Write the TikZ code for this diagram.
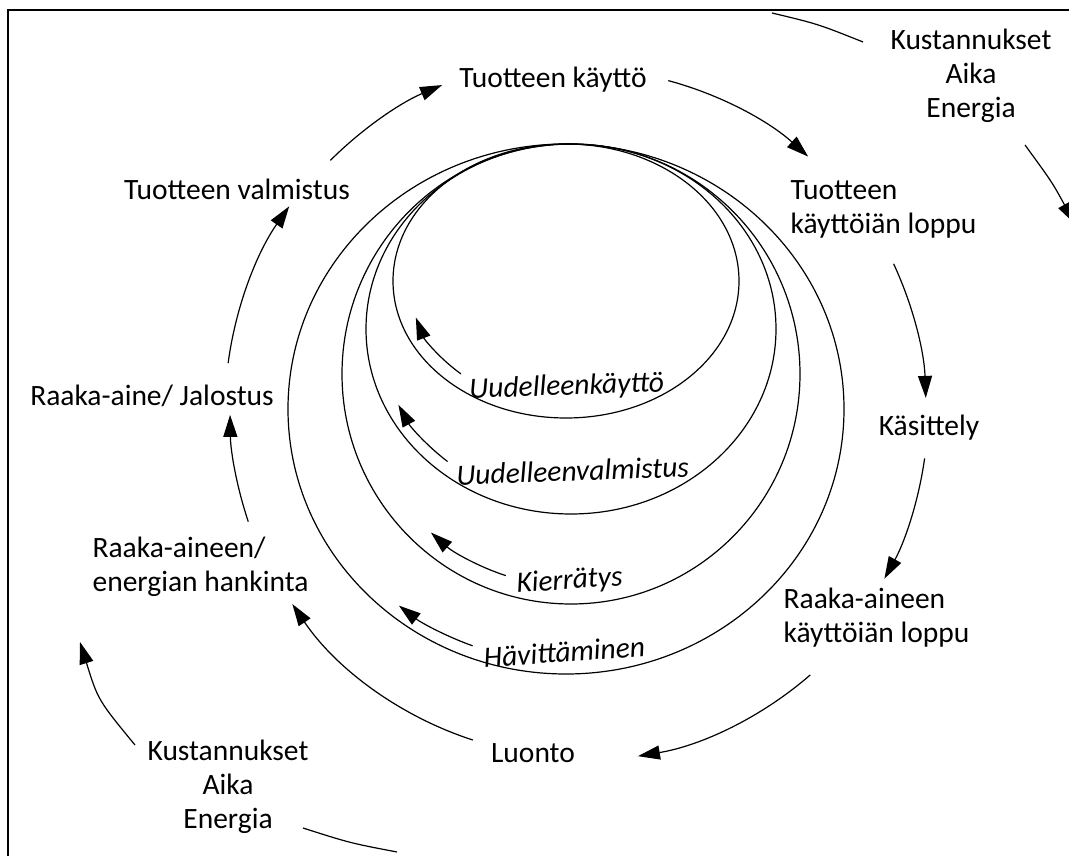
\documentclass[tikz,border=0pt]{standalone}
\usepackage{fontspec}
\setmainfont{Carlito}
\usetikzlibrary{arrows.meta,calc}
\begin{document}
\begin{tikzpicture}[x=1pt,y=-1pt,
  line width=1.2pt,
  arr/.style={-{Triangle[length=22pt,width=14pt]}},
  lab/.style={inner sep=0pt, font=\fontsize{29.5}{34}\selectfont},
  ilab/.style={inner sep=0pt, font=\fontsize{29.5}{34}\selectfont\itshape},
  ring/.style={line width=1.2pt}
]
\useasboundingbox (0,0) rectangle (1069,856);
\clip (0,0) rectangle (1069,856);
\fill[white] (0,0) rectangle (1069,856);
\draw[line width=2.2pt] (8,10) rectangle (1100,900);

% nested loops
\coordinate (c1) at (566,281);
\coordinate (c2) at (571,329);
\coordinate (c3) at (571,374);
\coordinate (c4) at (566,409);
\draw[ring] (c1) ellipse [x radius=173, y radius=137];
\draw[ring] (c2) ellipse [x radius=205, y radius=185];
\draw[ring] (c3) ellipse [x radius=229, y radius=230];
\draw[ring] (c4) ellipse [x radius=278, y radius=265];

% inner arrows
\draw[arr] ($(c1)+(132:157 and 125)$) arc[start angle=132, end angle=163, x radius=157, y radius=125];
\draw[arr] ($(c2)+(130:192 and 173)$) arc[start angle=130, end angle=154, x radius=192, y radius=173];
\draw[arr] ($(c3)+(108:211 and 212)$) arc[start angle=108, end angle=131.6, x radius=211, y radius=212];
\draw[arr] ($(c4)+(110.6:265.5 and 253)$) arc[start angle=110.6, end angle=129, x radius=265.5, y radius=253];

% inner labels
\node[ilab, anchor=base, rotate=2] (uk) at (567,395) {Uudelleenkäyttö};
\node[ilab, anchor=base, rotate=2] (uv) at (573,481) {Uudelleenvalmistus};
\node[ilab, anchor=base, rotate=4] (ki) at (570,589) {Kierrätys};
\node[ilab, anchor=base, rotate=4] (hv) at (565,662) {Hävittäminen};

% outer cycle labels
\node[lab, anchor=base] (kaytto) at (553,88) {Tuotteen käyttö};
\node[lab, anchor=base] (valm) at (237,200) {Tuotteen valmistus};
\node[lab, anchor=base west] (tloppu) at (790,200) {\begin{tabular}[t]{@{}l@{}}Tuotteen\\käyttöiän loppu\end{tabular}};
\node[lab, anchor=base] (kas) at (929,435) {Käsittely};
\node[lab, anchor=base west] (rloppu) at (783,608) {\begin{tabular}[t]{@{}l@{}}Raaka-aineen\\käyttöiän loppu\end{tabular}};
\node[lab, anchor=base] (luonto) at (533,762) {Luonto};
\node[lab, anchor=base west] (hank) at (92,557) {\begin{tabular}[t]{@{}l@{}}Raaka-aineen/\\energian hankinta\end{tabular}};
\node[lab, anchor=base] (jal) at (152,405) {Raaka-aine/ Jalostus};
\node[lab, anchor=base] (kae1) at (971,50) {\begin{tabular}[t]{@{}c@{}}Kustannukset\\Aika\\Energia\end{tabular}};
\node[lab, anchor=base] (kae2) at (228,760) {\begin{tabular}[t]{@{}c@{}}Kustannukset\\Aika\\Energia\end{tabular}};

% outer cycle arrows
\coordinate (O) at (580,410);
\draw[arr] ($(O)+(225:353)$) arc[start angle=225, end angle=247, radius=353];
\draw[arr] ($(O)+(285:341)$) arc[start angle=285, end angle=312, radius=341];
\draw[arr] ($(O)+(335:346)$) arc[start angle=335, end angle=358, radius=346];
\draw[arr] ($(O)+(8:348)$) arc[start angle=8, end angle=29, radius=348];
\draw[arr] ($(O)+(49:351)$) arc[start angle=49, end angle=80.5, radius=351];
\draw[arr] ($(O)+(108:347)$) arc[start angle=108, end angle=146, radius=347];
\draw[arr] ($(O)+(161.4:350)$) arc[start angle=161.4, end angle=179.2, radius=350];
\draw[arr] ($(O)+(187.6:355)$) arc[start angle=187.6, end angle=215, radius=355];

% cost arcs
\coordinate (a1) at (772,13);
\coordinate (a2) at (863,42);
\coordinate (a3) at (1025,145);
\coordinate (a4) at (1075,224);
\coordinate (b1) at (135,745);
\coordinate (b2) at (80,642);
\coordinate (b3) at (303,828);
\coordinate (b4) at (397,852);
\draw (a1) .. controls (818,24) .. (a2);
\draw[arr] (a3) .. controls (1052,182) .. (a4);
\draw[arr] (b1) .. controls (98,700) .. (b2);
\draw (b3) .. controls (350,843) .. (b4);
\end{tikzpicture}
\end{document}
